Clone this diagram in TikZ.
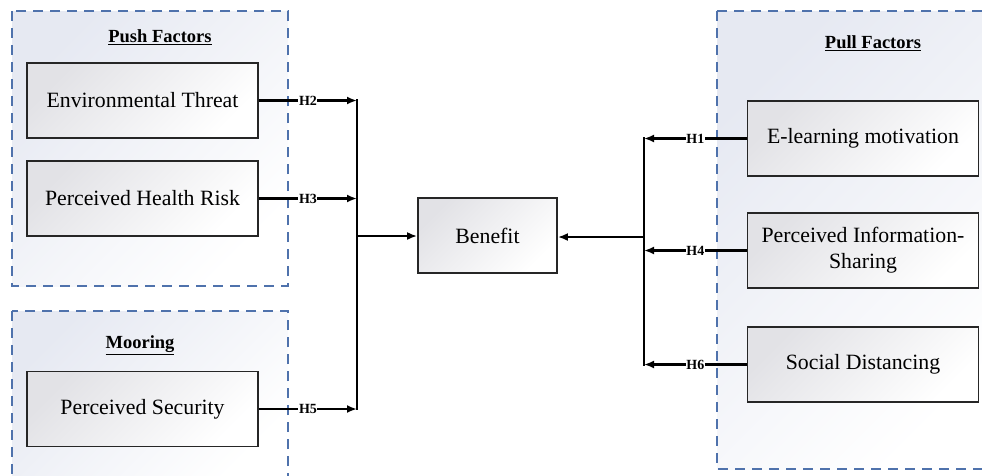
\documentclass[tikz,border=0pt]{standalone}
\usepackage{fontspec}
\setmainfont{Liberation Serif}
\usetikzlibrary{arrows.meta}
\definecolor{dashblue}{RGB}{79,114,172}
\definecolor{groupfill}{RGB}{230,233,242}
\definecolor{boxfill}{RGB}{226,226,230}
\begin{document}
\begin{tikzpicture}[x=1pt,y=-1pt,
  grp/.style={draw=dashblue, line width=1.6pt, dash pattern=on 10pt off 7pt,
    top color=groupfill, bottom color=white, shading angle=45},
  fbox/.style={draw=black!85, line width=1.8pt, minimum width=231pt, minimum height=75pt,
    inner sep=0pt, align=center, font=\fontsize{21.8}{26}\selectfont,
    top color=boxfill, bottom color=white, shading angle=45},
  ttl/.style={font=\fontsize{18.5}{22}\selectfont\bfseries, inner sep=0pt},
  lab/.style={font=\fontsize{14}{16}\selectfont\bfseries, fill=white, inner sep=0.6pt},
  arr/.style={line width=2.4pt, -{Latex[length=10pt,width=8pt]}},
  ln/.style={line width=2.4pt}]
\useasboundingbox (0,0) rectangle (982,475);
\fill[white] (0,0) rectangle (982,475);
% groups
\path[grp] (12,11) rectangle (288,286);
\path[grp] (12,311) rectangle (288,480);
\path[grp] (717,11) rectangle (995,469);
\node[ttl] (tpush) at (160,37) {\underline{Push Factors}};
\node[ttl] (tmoor) at (140,345) {\underline{Mooring}};
\node[ttl] (tpull) at (873,43) {\underline{Pull Factors}};
% boxes
\node[fbox] (et) at (142.5,100.5) {Environmental Threat};
\node[fbox] (phr) at (142.5,198.5) {Perceived Health Risk};
\node[fbox] (ps) at (142.5,409) {Perceived Security};
\node[fbox] (el) at (863,138.5) {E-learning motivation};
\node[fbox] (pis) at (863,250.5) {Perceived Information-\\Sharing};
\node[fbox] (sd) at (863,364.5) {Social Distancing};
\node[fbox, minimum width=139pt] (ben) at (487.5,235.5) {Benefit};
% junctions
\coordinate (jlt) at (357,100.5);
\coordinate (jlb) at (357,409);
\coordinate (jlm) at (357,236);
\coordinate (jrt) at (644,138.5);
\coordinate (jrb) at (644,364.5);
\coordinate (jrm) at (644,237);
\draw[ln] ([yshift=1.2pt]jlt) -- ([yshift=-1.2pt]jlb);
\draw[ln] ([yshift=1.2pt]jrt) -- ([yshift=-1.2pt]jrb);
\draw[arr] (et.east) -- node[lab]{H2} (et.east -| jlt);
\draw[arr] (phr.east) -- node[lab]{H3} (phr.east -| jlt);
\draw[arr] (ps.east) -- node[lab]{H5} (ps.east -| jlt);
\draw[arr] (jlm) -- (ben.west |- jlm);
\draw[arr] (el.west) -- node[lab]{H1} (el.west -| jrt);
\draw[arr] (pis.west) -- node[lab]{H4} (pis.west -| jrt);
\draw[arr] (sd.west) -- node[lab]{H6} (sd.west -| jrt);
\draw[arr] (jrm) -- (ben.east |- jrm);
\end{tikzpicture}
\end{document}
